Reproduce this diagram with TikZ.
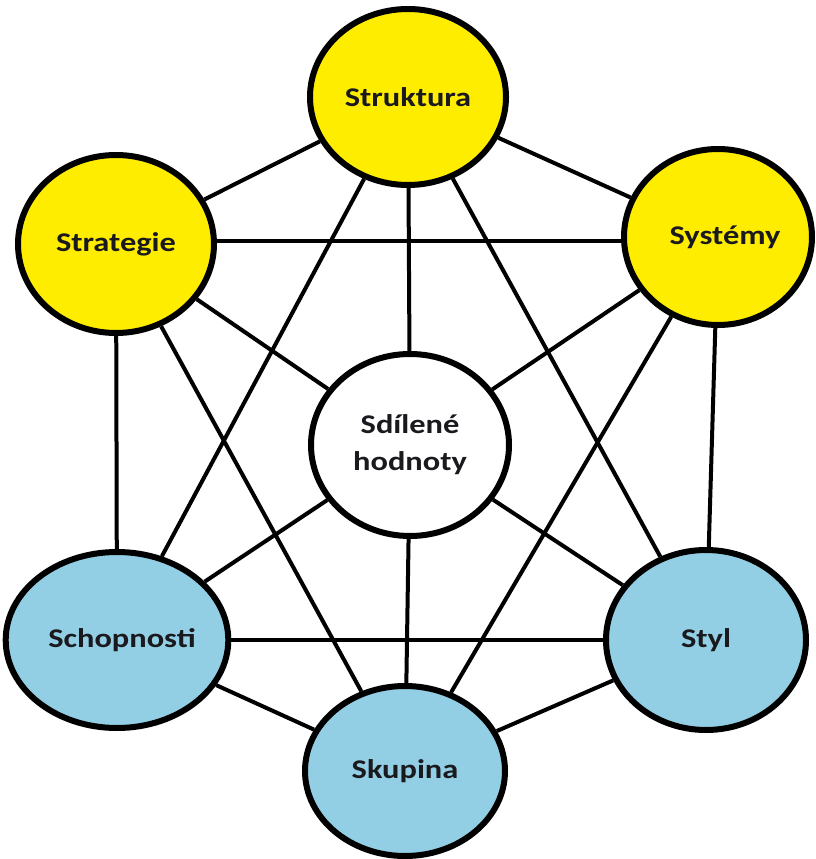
\documentclass[tikz,border=0pt]{standalone}
\usepackage{fontspec}
\setmainfont{Carlito}[FakeStretch=1.2]
\usetikzlibrary{shapes.geometric}
\definecolor{yel}{RGB}{255,237,0}
\definecolor{blu}{RGB}{147,207,228}
\definecolor{txt}{RGB}{25,25,30}
\begin{document}
\begin{tikzpicture}[x=1pt,y=-1pt,
  bub/.style={ellipse,draw=black,line width=6pt,inner sep=0pt,
    font=\fontsize{27}{37}\selectfont\bfseries,text=txt,align=center},
  con/.style={line width=4pt}]
\useasboundingbox (0,0) rectangle (816,859);
\fill[white] (0,0) rectangle (816,859);
\node[bub,fill=yel,minimum width=196pt,minimum height=176pt] (str) at (408,97) {Struktura};
\node[bub,fill=yel,minimum width=196pt,minimum height=178pt] (stg) at (116,244) {Strategie};
\node[bub,fill=yel,minimum width=188pt,minimum height=176pt] (sys) at (718,237) {\hspace*{14pt}Systémy};
\node[bub,fill=white,minimum width=198pt,minimum height=182pt] (sh) at (410,445) {Sdílené\\hodnoty};
\node[bub,fill=blu,minimum width=200pt,minimum height=176pt] (sch) at (117,640) {\hspace*{10pt}Schopnosti};
\node[bub,fill=blu,minimum width=200pt,minimum height=180pt] (sty) at (706,640) {Styl};
\node[bub,fill=blu,minimum width=200pt,minimum height=170pt] (sku) at (405,771) {Skupina};
% ring
\draw[con] (stg) -- (str);
\draw[con] (str) -- (sys);
\draw[con] (sys) -- (sty);
\draw[con] (sty) -- (sku);
\draw[con] (sku) -- (sch);
\draw[con] (sch) -- (stg);
% horizontals
\draw[con] ([yshift=3.5pt]stg.east) -- ([xshift=0pt]sys.west |- 0,240.5);
\draw[con] (sch) -- (sty);
% diagonals
\draw[con] (str) -- (sch);
\draw[con] (str) -- (sty);
\draw[con] (stg) -- (sku);
\draw[con] (sys) -- (sku);
% centre
\draw[con] (sh) -- (str);
\draw[con] (sh) -- (stg);
\draw[con] (sh) -- (sys);
\draw[con] (sh) -- (sch);
\draw[con] (sh) -- (sty);
\draw[con] (sh) -- (sku);
\end{tikzpicture}
\end{document}
